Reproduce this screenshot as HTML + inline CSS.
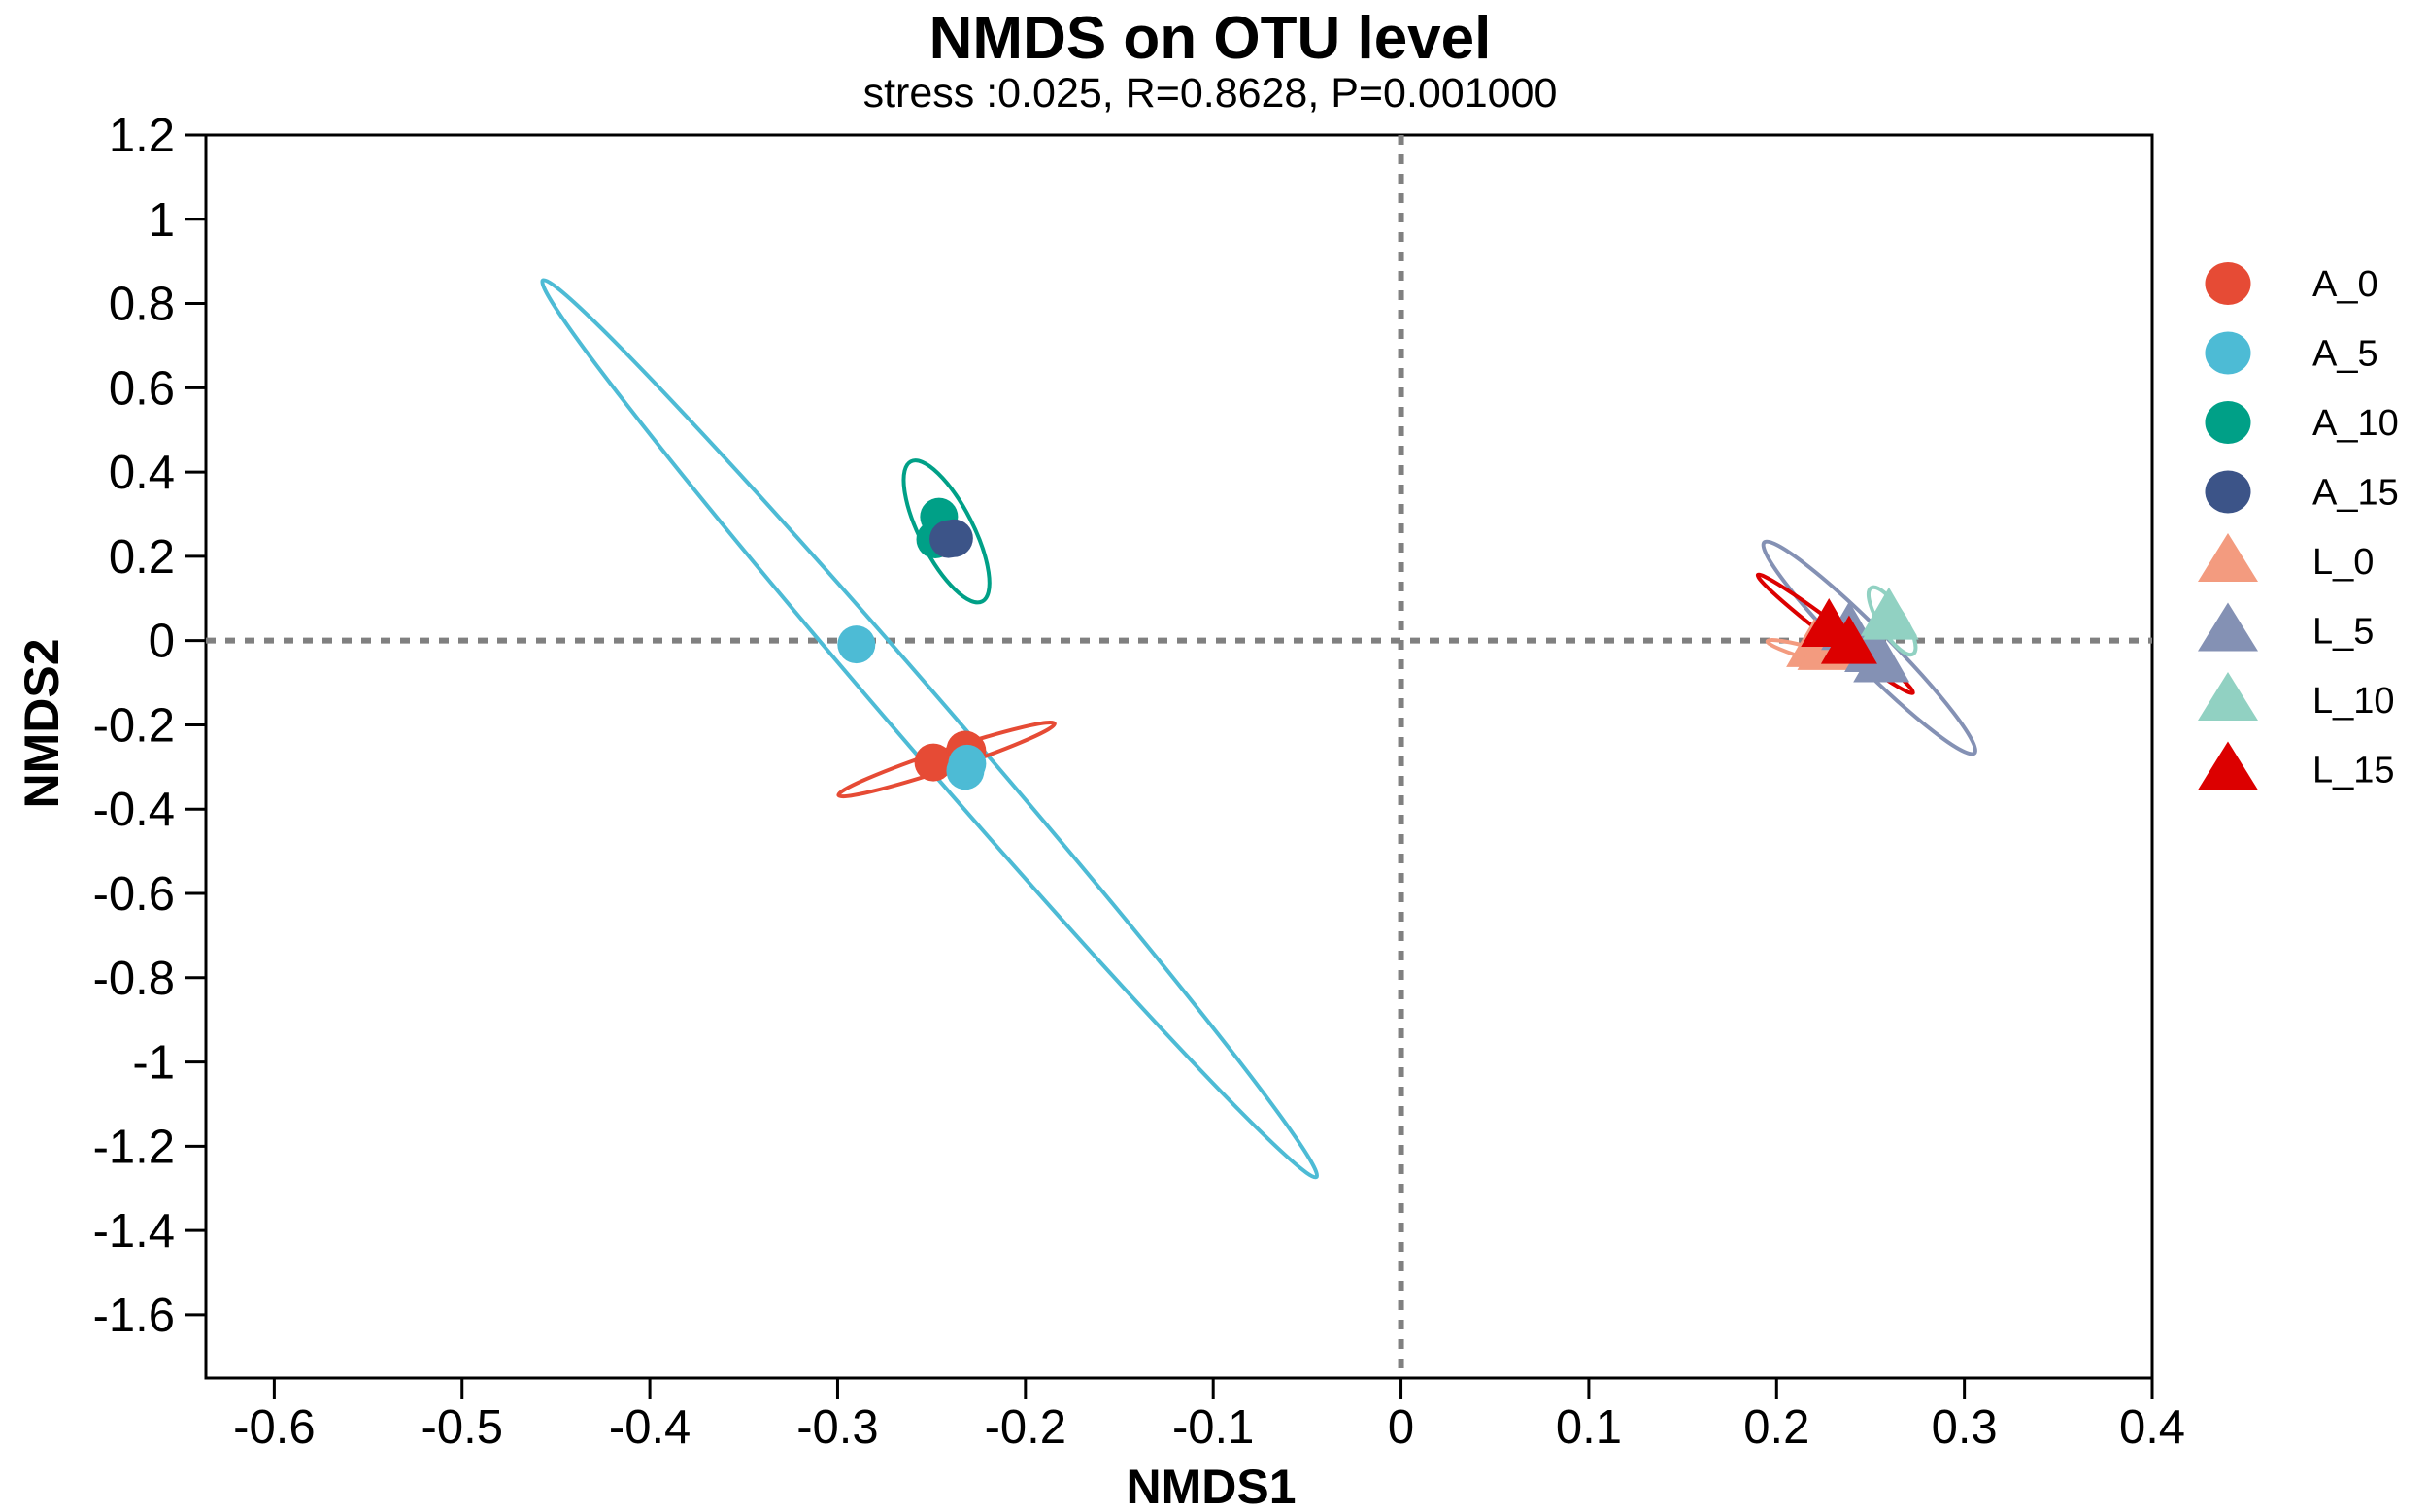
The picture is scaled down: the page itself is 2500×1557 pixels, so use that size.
<!DOCTYPE html>
<html><head><meta charset="utf-8"><style>
html,body{margin:0;padding:0;background:#fff;}
svg{display:block;font-family:"Liberation Sans",Arial,sans-serif;}
</style></head><body>
<svg id="chart" width="2500" height="1557" viewBox="0 0 2500 1557" xmlns="http://www.w3.org/2000/svg">
<text x="1246" y="60" text-anchor="middle" font-size="62" font-weight="bold">NMDS on OTU level</text>
<text x="1246" y="110" text-anchor="middle" font-size="43">stress :0.025, R=0.8628, P=0.001000</text>
<g id="plot"></g>
<text x="1247" y="1548" text-anchor="middle" font-size="50" font-weight="bold">NMDS1</text>
<text x="0" y="0" transform="translate(60,745) rotate(-90)" text-anchor="middle" font-size="50" font-weight="bold">NMDS2</text>
<g id="legend"></g>
</svg>
<script>
const groups = ["A_0","A_5","A_10","A_15","L_0","L_5","L_10","L_15"];
const colors = ["#E64B35","#4DBBD5","#00A087","#3C5488","#F39B7F","#8491B4","#91D1C2","#DC0000"];
const shapes = ["circle","circle","circle","circle","tri","tri","tri","tri"];
const xTicks = [-0.6,-0.5,-0.4,-0.3,-0.2,-0.1,0,0.1,0.2,0.3,0.4];
const xTickLabels = ["-0.6","-0.5","-0.4","-0.3","-0.2","-0.1","0","0.1","0.2","0.3","0.4"];
const yTicks = [1.2,1,0.8,0.6,0.4,0.2,0,-0.2,-0.4,-0.6,-0.8,-1,-1.2,-1.4,-1.6];
const yTickLabels = ["1.2","1","0.8","0.6","0.4","0.2","0","-0.2","-0.4","-0.6","-0.8","-1","-1.2","-1.4","-1.6"];
// points: group index, NMDS1, NMDS2
const ptGroup = [0,0,0, 1,1,1, 2,2, 3,3, 4,4,4, 5,5,5, 6,6, 7,7];
const ptX = [-0.249,-0.232,-0.231, -0.290,-0.232,-0.231, -0.248,-0.246, -0.241,-0.238, 0.2201,0.2313,0.226, 0.2387,0.2511,0.2558, 0.2607,0.2598, 0.2279,0.2386];
const ptY = [-0.289,-0.259,-0.262, -0.009,-0.309,-0.292, 0.240,0.294, 0.241,0.243, -0.005,-0.009,-0.012, 0.0355,-0.017,-0.041, 0.060,0.069, 0.043,0.0025];
// ellipses: center, major-axis endpoint, minor/major ratio
const elGroup = [1,2,0,5,7,4,6];
const elCx = [-0.251,-0.242,-0.242,0.2494,0.2313,0.2193,0.2615];
const elCy = [-0.209,0.259,-0.282,-0.017,0.016,-0.032,0.0466];
const elEx = [-0.457,-0.261,-0.1845,0.1934,0.19,0.1951,0.2503];
const elEy = [0.855,0.425,-0.197,0.233,0.156,-0.0014,0.125];
const elRatio = [0.045,0.34,0.085,0.13,0.08,0.125,0.32];

const X0=212, X1=2216, Y0=139, Y1=1419;
const xmin=-0.6364, xmax=0.4, ymax=1.2, ymin=-1.75;
const sx = v => X0 + (v - xmin)/(xmax - xmin)*(X1 - X0);
const sy = v => Y0 + (ymax - v)/(ymax - ymin)*(Y1 - Y0);
const NS="http://www.w3.org/2000/svg";
const plot=document.getElementById('plot');
function mk(tag, attrs, parent){const e=document.createElementNS(NS,tag);for(const k in attrs)e.setAttribute(k,attrs[k]);(parent||plot).appendChild(e);return e;}

let fr=mk('rect',{x:X0,y:Y0,width:X1-X0,height:Y1-Y0,fill:'none',stroke:'#000','stroke-width':3});


let zv=mk('line',{x1:sx(0),x2:sx(0),y1:Y0,y2:Y1,stroke:'#808080','stroke-width':6,'stroke-dasharray':'10 10'});


let zh=mk('line',{x1:X0,x2:X1,y1:sy(0),y2:sy(0),stroke:'#808080','stroke-width':6,'stroke-dasharray':'10 10'});


xTicks.forEach((t,i)=>{
  const l=mk('line',{x1:sx(t),x2:sx(t),y1:Y1,y2:Y1+22,stroke:'#000','stroke-width':3});
  
  
  const tx=mk('text',{x:sx(t),y:1486,'text-anchor':'middle','font-size':49});
  tx.textContent=xTickLabels[i];
  
  
});
yTicks.forEach((t,i)=>{
  const l=mk('line',{x1:X0-22,x2:X0,y1:sy(t),y2:sy(t),stroke:'#000','stroke-width':3});
  
  
  const tx=mk('text',{x:180,y:sy(t)+17,'text-anchor':'end','font-size':49});
  tx.textContent=yTickLabels[i];
  
  
});
elGroup.forEach((g,i)=>{
  const cx=sx(elCx[i]), cy=sy(elCy[i]), ex=sx(elEx[i]), ey=sy(elEy[i]);
  const a=Math.hypot(ex-cx,ey-cy), ang=Math.atan2(ey-cy,ex-cx)*180/Math.PI;
  const e=mk('ellipse',{cx:cx,cy:cy,rx:a,ry:a*elRatio[i],transform:`rotate(${ang} ${cx} ${cy})`,fill:'none',stroke:colors[g],'stroke-width':4});
  
  
});
function tri(cx,cy,w,h,fill,parent){
  return mk('polygon',{points:`${cx},${cy-h/2} ${cx-w/2},${cy+h/2} ${cx+w/2},${cy+h/2}`,fill:fill},parent);
}
ptGroup.forEach((g,i)=>{
  const cx=sx(ptX[i]), cy=sy(ptY[i]);
  let e;
  if(shapes[g]==='circle') e=mk('circle',{cx:cx,cy:cy,r:19.5,fill:colors[g]});
  else e=tri(cx,cy,58,50,colors[g]);
  
  
});
const lg=document.getElementById('legend');
groups.forEach((g,i)=>{
  const cy=292+71.5*i;
  const item=mk('g',{},lg);
  
  
  let m;
  if(shapes[i]==='circle') m=mk('ellipse',{cx:2294,cy:cy,rx:23.5,ry:22,fill:colors[i]},item);
  else m=tri(2294,cy-4,62,50,colors[i],item);
  
  
  const t=mk('text',{x:2381,y:cy+13,'font-size':38},item);
  t.textContent=g;
  
  
});
</script>
</body></html>
